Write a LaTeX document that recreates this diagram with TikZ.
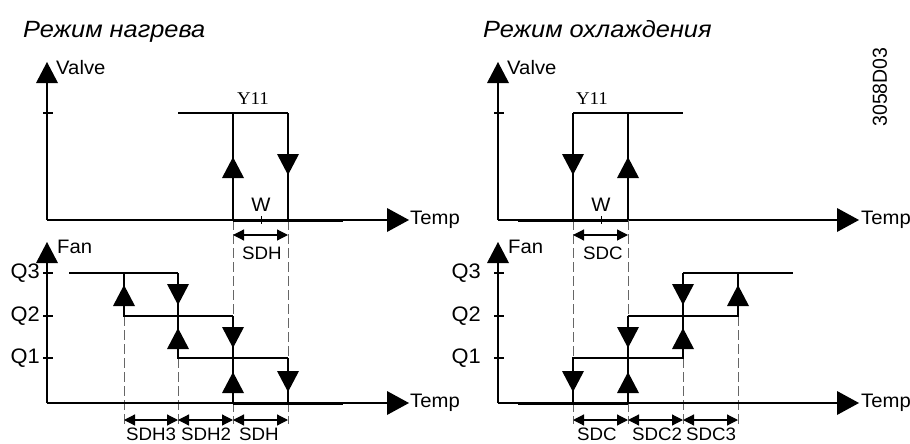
\documentclass[tikz,border=0pt]{standalone}
\usepackage{fontspec}
\setmainfont{Liberation Sans}
\newfontfamily\serifY{Liberation Serif}
\usetikzlibrary{arrows.meta}
\begin{document}
\begin{tikzpicture}[x=1pt,y=-1pt,
  axis/.style={line width=1.2pt},
  stepline/.style={line width=1.8pt},
  vline/.style={line width=2.5pt},
  thickbase/.style={line width=3pt},
  yline/.style={line width=1.5pt},
  guide/.style={line width=1pt,draw=black!60,dash pattern=on 10pt off 4pt},
  dim/.style={line width=1.2pt,{Triangle[length=11pt,width=11pt]}-{Triangle[length=11pt,width=11pt]}},
  lbl/.style={font=\fontsize{19.5}{19.5}\selectfont,inner sep=0pt,xscale=1.04},
  qlbl/.style={font=\fontsize{21}{21}\selectfont,inner sep=0pt,anchor=east,xscale=1.04},
  dlbl/.style={font=\fontsize{18}{18}\selectfont,inner sep=0pt,xscale=1.04},
  ylbl/.style={font=\fontsize{18}{18}\selectfont\serifY,inner sep=0pt,xscale=1.05},
  ttl/.style={font=\fontsize{23.5}{23.5}\selectfont\itshape,inner sep=0pt,anchor=base west,xscale=1.08},
  uptri/.pic={\fill (0,0) -- (-11,21) -- (11,21) -- cycle;},
  dntri/.pic={\fill (0,0) -- (-11,-21) -- (11,-21) -- cycle;},
  axup/.pic={\fill (0,0) -- (-11,21) -- (11,21) -- cycle;},
  axright/.pic={\fill (0,0) -- (-22,-12) -- (-22,12) -- cycle;},
]
\useasboundingbox (0,0) rectangle (910,444);

% ---------- titles ----------
\node[ttl] (t1) at (23,38) {Режим нагрева};
\node[ttl] (t2) at (483,38) {Режим охлаждения};
\node[lbl,rotate=90] (code) at (880,87) {3058D03};

% ================= LEFT: heating =================
\draw[axis] (47,220) -- (47,83);
\pic at (47,62) {axup};
\draw[axis] (43,113) -- (53,113);
\draw[axis] (47,220) -- (387,220);
\pic at (409,220) {axright};
\node[lbl,anchor=west] (v1) at (56,68) {Valve};
\node[lbl,anchor=west] (tm1) at (410,220) {Temp};
% guides
\draw[guide] (233,220) -- (233,424);
\draw[guide] (288,220) -- (288,424);
\draw[guide] (124,316) -- (124,424);
\draw[guide] (178,358) -- (178,424);
% Y11
\draw[yline] (178,113) -- (288,113);
\draw[vline] (233,113) -- (233,220);
\draw[vline] (288,113) -- (288,220);
\draw[thickbase] (233,220) -- (343,220);
\pic at (233,157) {uptri};
\pic at (288,175) {dntri};
\node[ylbl] (y1) at (253,99) {Y11};
\draw[line width=0.8pt] (261,216) -- (261,224);
\node[lbl] (w1) at (261,205) {W};
\draw[dim] (233,235) -- (288,235);
\node[dlbl] (sdh0) at (262,253) {SDH};

% fan axes
\draw[axis] (47,403) -- (47,263);
\pic at (47,242) {axup};
\node[lbl,anchor=west] (f1) at (57,247) {Fan};
\foreach \yy/\q in {273/Q3,316/Q2,358/Q1}{
  \draw[axis] (43,\yy) -- (53,\yy);
  \node[qlbl] at (40,\yy) {\q};
}
\draw[axis] (47,403) -- (387,403);
\pic at (409,403) {axright};
\node[lbl,anchor=west] (tm2) at (410,403) {Temp};
% steps
\draw[stepline] (69,273) -- (178,273);
\draw[stepline] (124,273) -- (124,316) -- (233,316);
\draw[stepline] (178,273) -- (178,358) -- (288,358);
\draw[vline] (233,316) -- (233,403);
\draw[stepline] (288,358) -- (288,403);
\draw[thickbase] (233,403) -- (343,403);
\pic at (124,285) {uptri};
\pic at (178,305) {dntri};
\pic at (178,328) {uptri};
\pic at (233,348) {dntri};
\pic at (233,372) {uptri};
\pic at (288,392) {dntri};
\draw[dim] (124,420) -- (178,420);
\draw[dim] (178,420) -- (233,420);
\draw[dim] (233,420) -- (288,420);
\node[dlbl] (sdh3) at (151,434) {SDH3};
\node[dlbl] (sdh2) at (206,434) {SDH2};
\node[dlbl] (sdh1) at (259,434) {SDH};

% ================= RIGHT: cooling =================
\draw[axis] (498,220) -- (498,83);
\pic at (498,62) {axup};
\draw[axis] (494,113) -- (504,113);
\draw[axis] (498,220) -- (837,220);
\pic at (859,220) {axright};
\node[lbl,anchor=west] (v2) at (507,68) {Valve};
\node[lbl,anchor=west] (tm3) at (861,220) {Temp};
% guides
\draw[guide] (573,220) -- (573,424);
\draw[guide] (628,220) -- (628,424);
\draw[guide] (683,358) -- (683,424);
\draw[guide] (738,316) -- (738,424);
% Y11
\draw[yline] (573,113) -- (683,113);
\draw[vline] (573,113) -- (573,220);
\draw[vline] (628,113) -- (628,220);
\draw[thickbase] (518,220) -- (628,220);
\pic at (573,175) {dntri};
\pic at (628,157) {uptri};
\node[ylbl] (y2) at (592,99) {Y11};
\draw[line width=0.8pt] (601,216) -- (601,224);
\node[lbl] (w2) at (601,205) {W};
\draw[dim] (573,235) -- (628,235);
\node[dlbl] (sdc0) at (603,253) {SDC};

% fan axes
\draw[axis] (498,403) -- (498,263);
\pic at (498,242) {axup};
\node[lbl,anchor=west] (f2) at (508,247) {Fan};
\foreach \yy/\q in {273/Q3,316/Q2,358/Q1}{
  \draw[axis] (494,\yy) -- (504,\yy);
  \node[qlbl] at (481,\yy) {\q};
}
\draw[axis] (498,403) -- (837,403);
\pic at (859,403) {axright};
\node[lbl,anchor=west] (tm4) at (861,403) {Temp};
% steps
\draw[stepline] (683,273) -- (793,273);
\draw[stepline] (683,273) -- (683,358) -- (573,358) -- (573,403);
\draw[stepline] (738,273) -- (738,316) -- (628,316);
\draw[vline] (628,316) -- (628,403);
\draw[thickbase] (518,403) -- (628,403);
\pic at (573,392) {dntri};
\pic at (628,348) {dntri};
\pic at (628,372) {uptri};
\pic at (683,305) {dntri};
\pic at (683,328) {uptri};
\pic at (738,285) {uptri};
\draw[dim] (573,420) -- (628,420);
\draw[dim] (628,420) -- (683,420);
\draw[dim] (683,420) -- (738,420);
\node[dlbl] (sdc1) at (597,434) {SDC};
\node[dlbl] (sdc2) at (657,434) {SDC2};
\node[dlbl] (sdc3) at (711,434) {SDC3};
\end{tikzpicture}
\end{document}
